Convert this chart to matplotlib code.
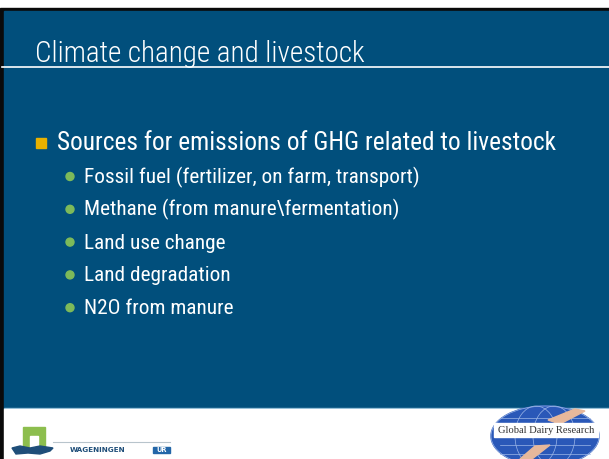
import matplotlib.pyplot as plt
from matplotlib.patches import Rectangle, Circle, Ellipse, Polygon

# slide content
title = 'Climate change and livestock'
main_point = 'Sources for emissions of GHG related to livestock'
sub_points = ['Fossil fuel (fertilizer, on farm, transport)',
              'Methane (from manure\\fermentation)',
              'Land use change',
              'Land degradation',
              'N2O from manure']
wur_name = 'WAGENINGEN'
wur_box = 'UR'
gdr_name = 'Global Dairy Research'

bg_blue = '#014F7C'
narrow = ['Roboto Condensed', 'DejaVu Sans']

fig = plt.figure(figsize=(6.09, 4.59), dpi=100)
ax = fig.add_axes([0, 0, 1, 1])
ax.set_xlim(0, 609)
ax.set_ylim(459, 0)
ax.axis('off')


def fit_width(t, target):
    # shrink/grow font so the text spans about `target` pixels
    r = fig.canvas.get_renderer()
    w = t.get_window_extent(r).width
    t.set_fontsize(t.get_fontsize() * target / w)


# slide background + border
ax.add_patch(Rectangle((0, 8), 609, 451, color='#0A0A0A', zorder=0))
ax.add_patch(Rectangle((4, 11), 605, 397, color=bg_blue, zorder=1))
ax.add_patch(Rectangle((4, 408), 605, 1.2, color='#7FB3CF', zorder=1))
ax.add_patch(Rectangle((4, 409.2), 605, 50, color='white', zorder=1))

# title + underline
t = ax.text(35, 62, title, color='white', fontsize=20.5, family=narrow,
            fontstretch='condensed', fontweight='light', va='baseline', zorder=3)
fit_width(t, 330)
ax.plot([2, 609], [67, 67], color='white', lw=1.2, zorder=3)

# main bullet
ax.add_patch(Rectangle((36, 138), 10, 10, color='#E8B100', zorder=3))
t = ax.text(57, 150, main_point, color='white', fontsize=17.5, family=narrow,
            fontstretch='condensed', va='baseline', zorder=3)
fit_width(t, 498)

# sub bullets
sub_size = None
for i, s in enumerate(sub_points):
    y = 183 + i * 32.8
    ax.add_patch(Circle((70, y - 6.5), 4, color='#7DBA5A', zorder=3))
    t = ax.text(84, y, s, color='white', fontsize=14.8, family=narrow,
                fontstretch='condensed', va='baseline', zorder=3)
    if sub_size is None:
        fit_width(t, 336)
        sub_size = t.get_fontsize()
    else:
        t.set_fontsize(sub_size)

# Wageningen UR logo
ax.add_patch(Rectangle((23, 427), 22, 20, color='#8DBE4E', zorder=3))
ax.add_patch(Rectangle((30, 436), 8, 11, color='white', zorder=3))
ax.add_patch(Polygon([(12, 448), (20, 446), (30, 448), (40, 446), (53, 448),
                      (50, 451), (40, 454), (28, 453), (16, 454)],
                     closed=True, color='#1F4E79', zorder=4))
ax.plot([53, 170], [442, 442], color='#B8C4CC', lw=0.8, zorder=3)
ax.text(70, 452, wur_name, color='#1F4E79', fontsize=5.2, family='DejaVu Sans',
        fontweight='bold', va='baseline', zorder=3)
ax.add_patch(Rectangle((153, 446.5), 17, 6.5, color='#2366A8', zorder=3))
ax.text(161.5, 449.8, wur_box, color='white', fontsize=4.8, fontweight='bold',
        ha='center', va='center', zorder=4)

# Global Dairy Research logo
ax.add_patch(Ellipse((545, 436), 108, 60, color='#2A58B8', zorder=3))
for dx in (-30, 0, 30):
    ax.add_patch(Ellipse((545 + dx * 0.3, 436), 108 - abs(dx) * 2.2, 60, fill=False,
                         ec='#9DB7E8', lw=0.5, zorder=3))
for dy in (-18, -9, 9, 18):
    ax.plot([500, 590], [436 + dy, 436 + dy], color='#9DB7E8', lw=0.5, zorder=3)
ax.add_patch(Polygon([(548, 420), (575, 409), (585, 411), (560, 424)],
                     closed=True, color='#E7B89B', zorder=4))
ax.add_patch(Polygon([(535, 446), (520, 459), (532, 459), (550, 445)],
                     closed=True, color='#E7B89B', zorder=4))
ax.add_patch(Rectangle((494, 423), 104, 14, color='white', zorder=5))
ax.text(546, 430.5, gdr_name, color='#333333', fontsize=7.6, family='Liberation Serif',
        ha='center', va='center', zorder=6)

fig.savefig('out.png', dpi=100)
